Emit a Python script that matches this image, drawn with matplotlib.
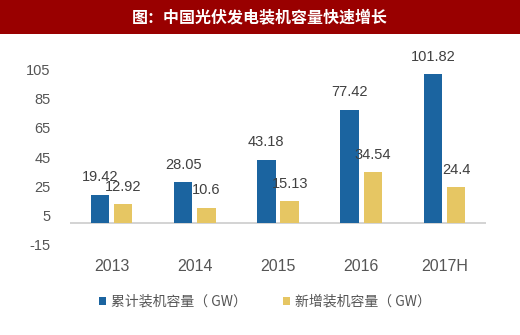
import matplotlib
matplotlib.use("Agg")
import matplotlib.pyplot as plt
import numpy as np

plt.rcParams['font.family'] = ['Liberation Sans', 'Noto Sans CJK SC', 'DejaVu Sans']
plt.rcParams['axes.unicode_minus'] = False

title = "图：中国光伏发电装机容量快速增长"
years = ["2013", "2014", "2015", "2016", "2017H"]
cumulative = [19.42, 28.05, 43.18, 77.42, 101.82]
added = [12.92, 10.6, 15.13, 34.54, 24.4]
series_names = ["累计装机容量（ GW）", "新增装机容量（ GW）"]
y_ticks = [-15, 5, 25, 45, 65, 85, 105]

blue = "#1b64a0"
gold = "#e6c663"
text_gray = "#555555"

W, H = 520, 335
fig = plt.figure(figsize=(W / 100, H / 100), dpi=100)
fig.patch.set_facecolor("white")

# Title banner
ban = fig.add_axes([0, 1 - 34 / H, 1, 34 / H])
ban.set_facecolor("#990000")
ban.set_xticks([]); ban.set_yticks([])
for s in ban.spines.values():
    s.set_visible(False)
ban.text(0.5, 0.5, title, color="white", fontsize=11.5, fontweight="bold",
         ha="center", va="center", family=['Noto Sans CJK SC', 'DejaVu Sans'])

# Main chart
left, right = 70, 486
top_px, bot_px = 69.3, 245
ax = fig.add_axes([left / W, (H - bot_px) / H, (right - left) / W, (bot_px - top_px) / H])
x = np.arange(len(years))
w = 0.22
off = 0.14
b1 = ax.bar(x - off, cumulative, w, color=blue, label=series_names[0], zorder=3)
b2 = ax.bar(x + off, added, w, color=gold, label=series_names[1], zorder=3)

for bars, vals in ((b1, cumulative), (b2, added)):
    for r, v in zip(bars, vals):
        ax.annotate(f"{v:g}", (r.get_x() + r.get_width() / 2, v),
                    xytext=(0, 12.5), textcoords="offset points",
                    ha="center", va="center", fontsize=10.5, color="#404040",
                    annotation_clip=False)

ax.set_xlim(-0.5, len(years) - 0.5)
ax.set_ylim(-15, 105)
ax.set_yticks(y_ticks)
ax.set_xticks(x)
ax.set_xticklabels(years)
ax.tick_params(axis="y", length=0, pad=14, labelsize=10.5, labelcolor=text_gray)
ax.tick_params(axis="x", length=0, labelsize=11.5, labelcolor=text_gray, pad=0)
for lbl in ax.get_xticklabels():
    lbl.set_y(-0.08)
for s in ax.spines.values():
    s.set_visible(False)
ax.axhline(0, color="#cccccc", lw=1.2, zorder=2)
ax.set_facecolor("none")

leg = fig.legend(handles=[b1, b2], labels=series_names, loc="center",
                 bbox_to_anchor=(265 / W, (H - 302) / H), ncol=2, frameon=False,
                 handlelength=0.5, handleheight=0.5, handletextpad=0.35,
                 columnspacing=2.6,
                 prop={"family": ['Noto Sans CJK SC', 'DejaVu Sans'], "size": 10})
for t in leg.get_texts():
    t.set_color(text_gray)

fig.savefig("out.png", dpi=100)
